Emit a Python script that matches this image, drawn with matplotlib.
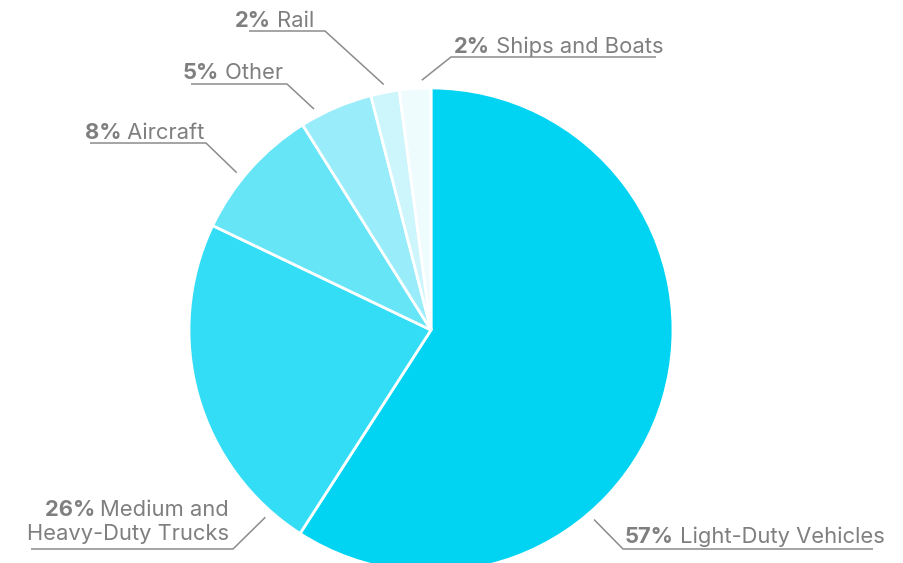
import numpy as np
import matplotlib
matplotlib.use('Agg')
import matplotlib.pyplot as plt

# slice sizes as drawn in the picture (clockwise from 12 o'clock)
categories = ['Light-Duty Vehicles', 'Medium and Heavy-Duty Trucks', 'Aircraft',
              'Other', 'Rail', 'Ships and Boats']
shares = [59.1, 23.0, 9.0, 4.9, 1.9, 2.1]
pct_labels = ['57%', '26%', '8%', '5%', '2%', '2%']
colors = ['#00d4f2', '#33ddf5', '#66e5f7', '#99edfa', '#ccf6fc', '#effcfe']

plt.rcParams['font.family'] = ['Inter', 'DejaVu Sans']
gray = '#7f7f7f'
line_gray = '#8c8c8c'
fs = 15.8

fig = plt.figure(figsize=(9.04, 5.63), dpi=100)
ax = fig.add_axes([0, 0, 1, 1])

cx, cy, R = 431, 330, 242
ax.pie(shares, colors=colors, startangle=-90, counterclock=True,
       center=(cx, cy), radius=R,
       wedgeprops=dict(edgecolor='white', linewidth=2))
ax.set_xlim(0, 904)
ax.set_ylim(563, 0)
ax.set_aspect('equal')
ax.axis('off')

# label layout: anchor angle (clockwise from top), elbow, underline end x,
# text x, baseline y, alignment
layout = {
    'Light-Duty Vehicles': (139.3, (623, 549), 873, 625, 543, 'left'),
    'Medium and Heavy-Duty Trucks': (221.5, (233, 549), 31, 229, 540, 'right'),
    'Aircraft': (309.0, (206, 143), 90, 85, 139, 'left'),
    'Other': (332.1, (287, 84), 191, 183, 79, 'left'),
    'Rail': (349.1, (325, 31), 249, 235, 27, 'left'),
    'Ships and Boats': (357.9, (451, 57), 656, 454, 53, 'left'),
}
r_anchor = 250

for name, pct in zip(categories, pct_labels):
    ang, (ex, ey), end_x, tx, ty, ha = layout[name]
    th = np.deg2rad(ang - 90)
    ax_, ay_ = cx + r_anchor * np.cos(th), cy + r_anchor * np.sin(th)
    ax.plot([ax_, ex, end_x], [ay_, ey, ey], color=line_gray, lw=1.1,
            solid_capstyle='butt')

    if ha == 'left':
        t = ax.text(tx, ty, pct, fontsize=fs, fontweight='bold', color=gray,
                    ha='left', va='baseline')
        ax.annotate(' ' + name, xy=(1, 0), xycoords=t, fontsize=fs,
                    color=gray, ha='left', va='bottom')
    else:
        # two line label, right aligned
        ax.text(tx, ty, 'Heavy-Duty Trucks', fontsize=fs, color=gray,
                ha='right', va='baseline')
        t = ax.text(tx, ty - 23.5, 'Medium and', fontsize=fs, color=gray,
                    ha='right', va='baseline')
        ax.annotate(pct + ' ', xy=(0, 0), xycoords=t, fontsize=fs,
                    fontweight='bold', color=gray, ha='right', va='bottom')

plt.savefig('out.png', dpi=100)
plt.close()
